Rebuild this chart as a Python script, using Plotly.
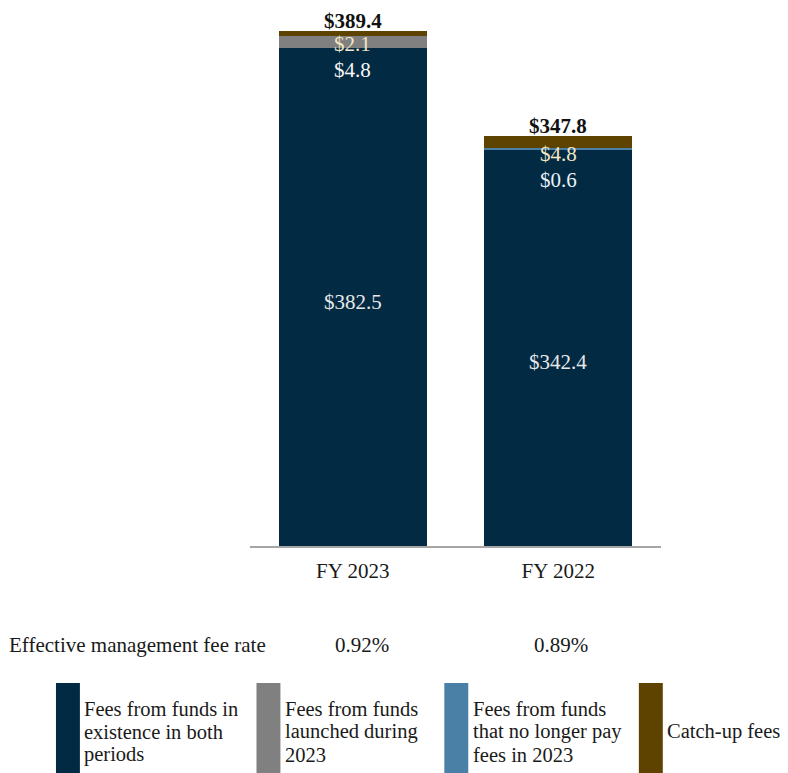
import plotly.graph_objects as go

# ---------------- data ----------------
periods = ["FY 2023", "FY 2022"]
series_names = [
    "Fees from funds in existence in both periods",
    "Fees from funds launched during 2023",
    "Fees from funds that no longer pay fees in 2023",
    "Catch-up fees",
]
existing_fees = [382.5, 342.4]
launched_fees = [4.8, 0.0]
discontinued_fees = [0.0, 0.6]
catchup_fees = [2.1, 4.8]
fee_rates = ["0.92%", "0.89%"]
fee_rate_label = "Effective management fee rate"

# ---------------- style ----------------
FONT = "Liberation Serif, Times New Roman, serif"
FS = 21
LFS = 20.5
colors = ["#032A43", "#808080", "#4A7FA6", "#5E4300"]
label_colors = ["#E8E8E8", "#F7F7F7", "#EAF1F6", "#F2E6C4"]
legend_lines = [
    ["Fees from funds in", "existence in both", "periods"],
    ["Fees from funds", "launched during", "2023"],
    ["Fees from funds", "that no longer pay", "fees in 2023"],
    ["Catch-up fees"],
]

W, H = 788, 773
OFF = 8  # page body margin
# plot-area edges in page pixels
L, R, T, B = 249.5, 661.5, 8.0, 545.7


def px(x):
    return (x - L) / (R - L)


def py(y):
    return (B - y) / (B - T)


series_values = [existing_fees, launched_fees, discontinued_fees, catchup_fees]
totals = [sum(v[i] for v in series_values) for i in range(len(periods))]

fig = go.Figure()
for name, vals, col in zip(series_names, series_values, colors):
    fig.add_trace(go.Bar(
        x=periods, y=vals, name=name, marker=dict(color=col, line=dict(width=0)),
        showlegend=False, hoverinfo="x+y+name",
    ))

y_lo, y_hi = 185.36, 398.39

annotations = []
# totals (bold, above each bar)
for p, tot in zip(periods, totals):
    annotations.append(dict(
        x=p, y=tot, xref="x", yref="y", text=f"<b>${tot:.1f}</b>", showarrow=False,
        yanchor="bottom", font=dict(family=FONT, size=FS, color="#111111"), yshift=-4,
    ))

# segment labels
for i, p in enumerate(periods):
    lo = max(y_lo, 0)
    top_main = existing_fees[i]
    annotations.append(dict(
        x=p, y=(lo + top_main) / 2, xref="x", yref="y", text=f"${existing_fees[i]:.1f}",
        showarrow=False, yanchor="middle", font=dict(family=FONT, size=FS, color=label_colors[0]),
        yshift=[-5, -14][i],
    ))
    # small segments, listed from the top of the bar downwards
    small = [(s, series_values[s][i]) for s in (3, 2, 1) if series_values[s][i] > 0]
    offsets = [[13, 39], [18, 44]][i]
    for k, (s, v) in enumerate(small):
        annotations.append(dict(
            x=p, y=totals[i], xref="x", yref="y", text=f"${v:.1f}", showarrow=False,
            yanchor="middle", yshift=-offsets[k],
            font=dict(family=FONT, size=FS, color=label_colors[s]),
        ))

# fee rate row
annotations.append(dict(
    x=px(6), y=py(645), xref="paper", yref="paper", text=fee_rate_label, showarrow=False,
    xanchor="left", yanchor="middle", font=dict(family=FONT, size=FS, color="#1a1a1a"),
))
for p, r, xs in zip(periods, fee_rates, [9, 3]):
    annotations.append(dict(
        x=p, y=py(645), xref="x", yref="paper", text=r, showarrow=False, xshift=xs,
        xanchor="center", yanchor="middle", font=dict(family=FONT, size=FS, color="#1a1a1a"),
    ))

# custom legend
shapes = []
box_x = [55, 256, 444.3, 639.3]
text_x = [81, 282.5, 471, 665.5]
for j, (col, lines) in enumerate(zip(colors, legend_lines)):
    shapes.append(dict(
        type="rect", xref="paper", yref="paper", x0=px(box_x[j]), x1=px(box_x[j] + 24),
        y0=py(682.7), y1=py(800), fillcolor=col, line=dict(width=0), layer="above",
    ))
    n = len(lines)
    for k, ln in enumerate(lines):
        yc = 731.5 + (k - (n - 1) / 2) * 22.8
        annotations.append(dict(
            x=px(text_x[j]), y=py(yc), xref="paper", yref="paper", text=ln, showarrow=False,
            xanchor="left", yanchor="middle", font=dict(family=FONT, size=LFS, color="#1a1a1a"),
        ))

fig.update_layout(
    width=W, height=H,
    barmode="stack", bargap=0.279,
    margin=dict(l=L - OFF, r=W - (R - OFF), t=T - OFF, b=H - (B - OFF), pad=0),
    paper_bgcolor="white", plot_bgcolor="white",
    font=dict(family=FONT, size=FS, color="#1a1a1a"),
    xaxis=dict(
        range=[-0.5, 1.5], showline=True, linecolor="#A6A6A6", linewidth=1.5,
        ticks="", showgrid=False, zeroline=False, ticklabelstandoff=5,
        tickfont=dict(family=FONT, size=FS, color="#1a1a1a"),
    ),
    yaxis=dict(range=[y_lo, y_hi], visible=False, showgrid=False, zeroline=False),
    annotations=annotations, shapes=shapes, showlegend=False,
)

fig.write_html("out.html")
